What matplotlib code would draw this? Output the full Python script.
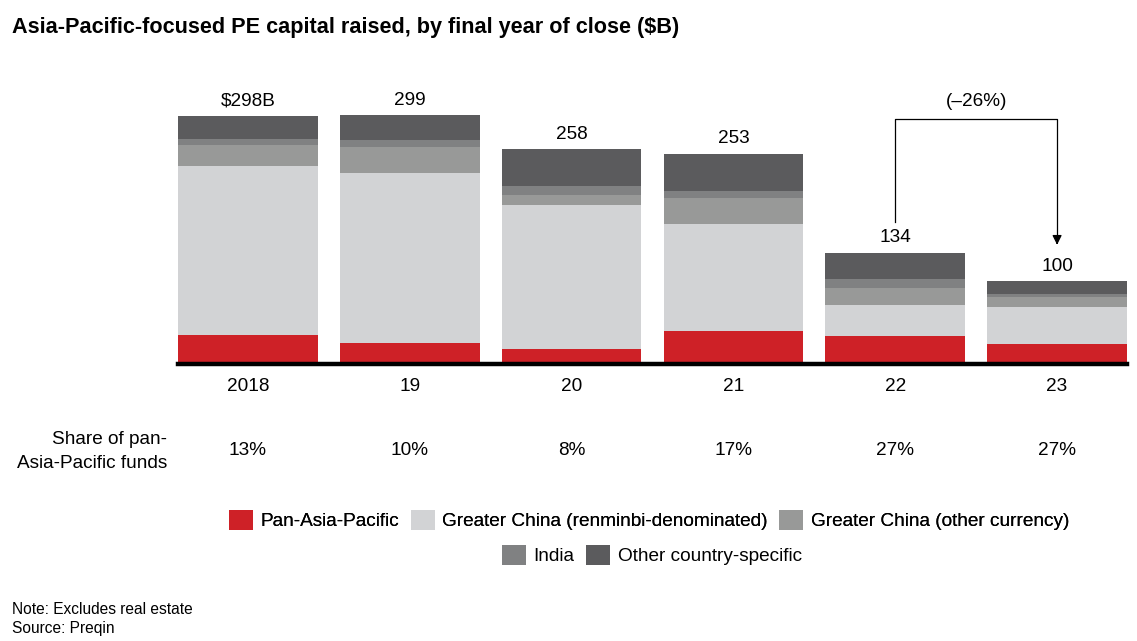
import numpy as np
import matplotlib.pyplot as plt
from matplotlib.patches import Patch

plt.rcParams['font.family'] = ['Liberation Sans', 'DejaVu Sans']

years = ['2018', '19', '20', '21', '22', '23']
value_labels = ['$298B', '299', '258', '253', '134', '100']
shares = ['13%', '10%', '8%', '17%', '27%', '27%']

# $B by segment
pan_apac = [35, 25, 18, 40, 34, 24]
china_rmb = [203, 205, 173, 128, 37, 45]
china_other = [25, 31, 12, 32, 20, 11]
india = [7, 8, 11, 8, 11, 4]
other = [28, 30, 44, 45, 32, 16]

series = [
    ('Pan-Asia-Pacific', pan_apac, '#ce2127'),
    ('Greater China (renminbi-denominated)', china_rmb, '#d2d3d5'),
    ('Greater China (other currency)', china_other, '#989998'),
    ('India', india, '#808182'),
    ('Other country-specific', other, '#5b5b5d'),
]

W, H = 1137, 641
fs = 13.7
fig = plt.figure(figsize=(W / 100, H / 100), dpi=100)

# axes: baseline at y=364px, bars span x=178..1127
ax_left, ax_right = 178, 1127
ax_bottom, ax_top = 364, 80
ax = fig.add_axes([ax_left / W, 1 - ax_bottom / H, (ax_right - ax_left) / W, (ax_bottom - ax_top) / H])

x = np.arange(len(years))
width = 0.864
bottom = np.zeros(len(years))
for name, vals, color in series:
    ax.bar(x, vals, width, bottom=bottom, color=color, label=name, linewidth=0)
    bottom += np.array(vals)
totals = bottom

ax.set_xlim(x[0] - width / 2, x[-1] + width / 2)
ax.set_ylim(0, (ax_bottom - ax_top) / 0.832)
ax.axis('off')
ax.axhline(0, color='black', linewidth=3.2, clip_on=False, zorder=5)

for xi, t, lab in zip(x, totals, value_labels):
    ax.annotate(lab, (xi, t), xytext=(0, 10.5), textcoords='offset points',
                ha='center', va='center', fontsize=fs)

# year labels and shares
for xi, yr, sh in zip(x, years, shares):
    ax.annotate(yr, (xi, 0), xytext=(0, -16), textcoords='offset points',
                ha='center', va='center', fontsize=fs)
    ax.annotate(sh, (xi, 0), xytext=(0, -62.5), textcoords='offset points',
                ha='center', va='center', fontsize=fs)

fig.text(167 / W, 1 - 440 / H, 'Share of pan-', ha='right', va='center', fontsize=fs)
fig.text(167 / W, 1 - 463 / H, 'Asia-Pacific funds', ha='right', va='center', fontsize=fs)

# bracket from 2022 to 2023
top_y = 295
ax.plot([x[4], x[4], x[5], x[5]], [totals[4] + 37, top_y, top_y, totals[5] + 48],
        color='black', linewidth=0.9, clip_on=False)
ax.annotate('', xy=(x[5], totals[5] + 40), xytext=(x[5], totals[5] + 50),
            arrowprops=dict(arrowstyle='-|>', color='black', lw=0.9, mutation_scale=14),
            annotation_clip=False)
ax.text((x[4] + x[5]) / 2, top_y + 21, '(\u201326%)', ha='center', va='center', fontsize=fs)

# title and notes
fig.text(12 / W, 1 - 27 / H, 'Asia-Pacific-focused PE capital raised, by final year of close ($B)',
         ha='left', va='center', fontsize=15.6, fontweight='bold')
fig.text(12 / W, 1 - 609 / H, 'Note: Excludes real estate', ha='left', va='center', fontsize=11.2)
fig.text(12 / W, 1 - 628 / H, 'Source: Preqin', ha='left', va='center', fontsize=11.2)

# legend in two rows
handles = [Patch(facecolor=c, edgecolor='none', label=n) for n, _, c in series]
leg_kw = dict(loc='center', frameon=False, fontsize=fs, handlelength=1.27, handleheight=1.27,
              handletextpad=0.4, columnspacing=0.6, borderaxespad=0)
leg1 = fig.legend(handles=handles[:3], bbox_to_anchor=(649 / W, 1 - 520 / H), ncol=3, **leg_kw)
leg2 = fig.legend(handles=handles[3:], bbox_to_anchor=(652 / W, 1 - 555 / H), ncol=2, **leg_kw)
fig.add_artist(leg1)

fig.savefig('out.png', dpi=100)
